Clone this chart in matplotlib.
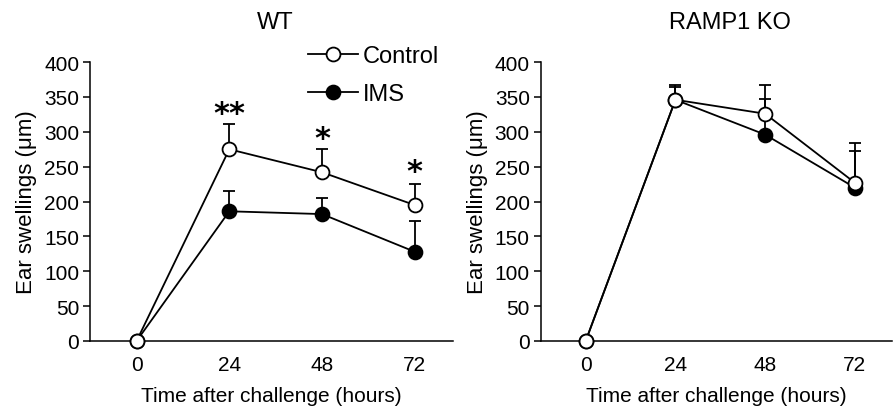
import matplotlib
matplotlib.use("Agg")
from matplotlib import pyplot as plt
from matplotlib.lines import Line2D

plt.rcParams['font.family'] = ['Liberation Sans', 'DejaVu Sans']

hours = [0, 24, 48, 72]

# WT
wt_control = [0, 275, 242, 195]
wt_control_err = [0, 36, 34, 30]
wt_ims = [0, 186, 182, 128]
wt_ims_err = [0, 29, 23, 44]
wt_stars = ["", "**", "*", "*"]
wt_star_y = [0, 306, 270, 222]

# RAMP1 KO
ko_control = [0, 346, 326, 227]
ko_control_err = [0, 21, 41, 57]
ko_ims = [0, 346, 296, 220]
ko_ims_err = [0, 18, 51, 52]

fig = plt.figure(figsize=(8.94, 4.10), dpi=100)
ax1 = fig.add_axes([0.101, 0.166, 0.406, 0.68])
ax2 = fig.add_axes([0.605, 0.166, 0.393, 0.68])


def draw(ax, ctrl, ctrl_err, ims, ims_err):
    for vals, err in [(ims, ims_err), (ctrl, ctrl_err)]:
        ax.errorbar(hours[1:], vals[1:], yerr=[[0] * 3, err[1:]], fmt='none',
                    ecolor='black', elinewidth=1.3, capsize=4, capthick=1.3,
                    zorder=2, clip_on=False)
    ax.plot(hours, ims, color='black', lw=1.3, marker='o', ms=10,
            mfc='black', mec='black', mew=1.3, zorder=3, clip_on=False)
    ax.plot(hours, ctrl, color='black', lw=1.3, marker='o', ms=10,
            mfc='white', mec='black', mew=1.3, zorder=4, clip_on=False)
    ax.set_xlim(-12, 82)
    ax.set_ylim(0, 400)
    ax.set_xticks(hours)
    ax.set_yticks(range(0, 401, 50))
    ax.spines['top'].set_visible(False)
    ax.spines['right'].set_visible(False)
    ax.spines['left'].set_linewidth(1.1)
    ax.spines['bottom'].set_linewidth(1.1)
    ax.tick_params(axis='x', length=0, labelsize=15, pad=10)
    ax.tick_params(axis='y', length=5, width=1.1, labelsize=15, pad=3)
    ax.set_xlabel('Time after challenge (hours)', fontsize=15, labelpad=9)
    ax.set_ylabel('Ear swellings (\u03bcm)', fontsize=16, labelpad=5)


draw(ax1, wt_control, wt_control_err, wt_ims, wt_ims_err)
draw(ax2, ko_control, ko_control_err, ko_ims, ko_ims_err)

for h, s, y in zip(hours, wt_stars, wt_star_y):
    if s:
        ax1.text(h, y, s, ha='center', va='bottom', fontsize=22,
                 fontweight='bold', family='DejaVu Sans')

fig.text(0.308, 0.945, 'WT', ha='center', va='center', fontsize=17)
fig.text(0.817, 0.945, 'RAMP1 KO', ha='center', va='center', fontsize=17)

handles = [
    Line2D([], [], color='black', lw=1.3, marker='o', ms=10, mfc='white', mec='black', mew=1.3),
    Line2D([], [], color='black', lw=1.3, marker='o', ms=10, mfc='black', mec='black', mew=1.3),
]
fig.legend(handles, ['Control', 'IMS'], loc='upper left',
           bbox_to_anchor=(0.321, 0.94), frameon=False, fontsize=17,
           handlelength=2.1, handletextpad=0.22, labelspacing=0.7)

fig.savefig('out.png', dpi=100)
